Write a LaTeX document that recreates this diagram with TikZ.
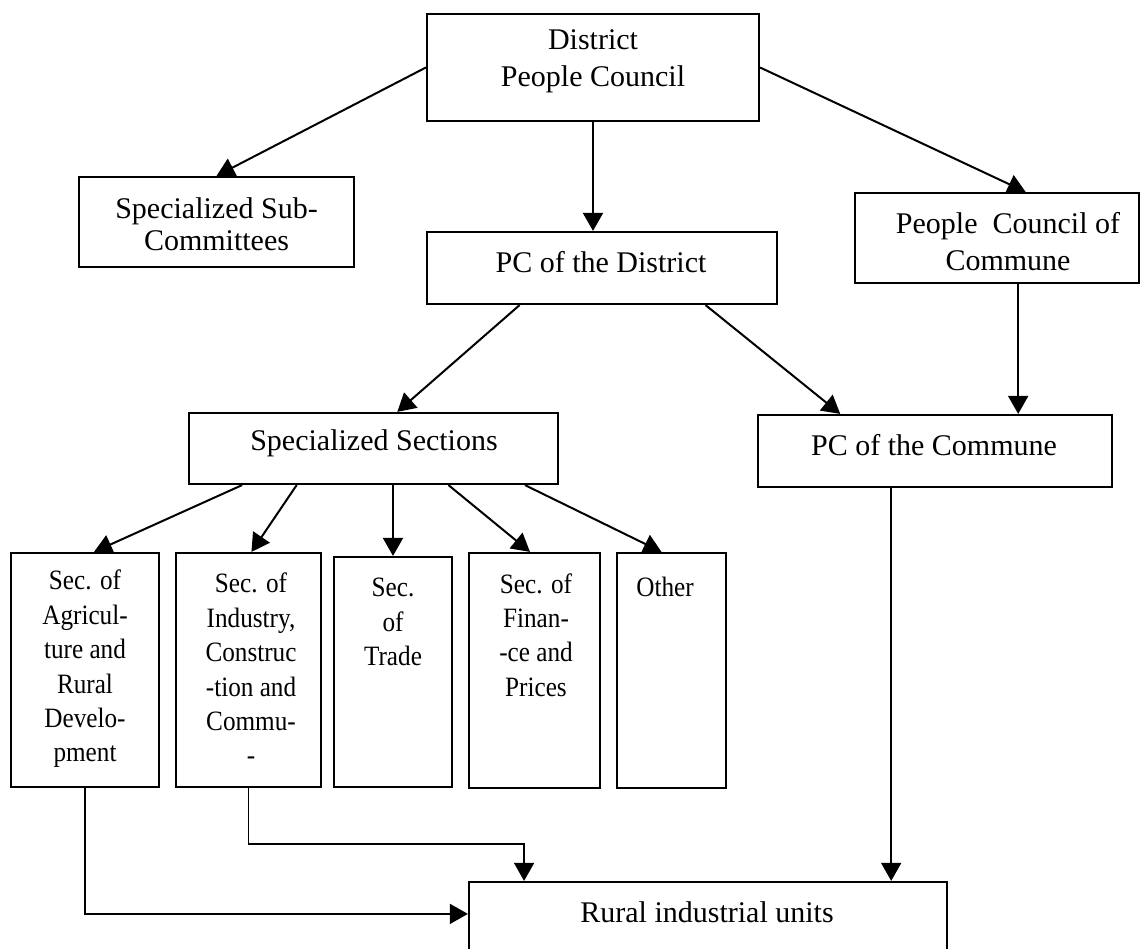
\documentclass[tikz,border=0pt]{standalone}
\usepackage{fontspec}
\setmainfont{Liberation Serif}
\newfontfamily\narrowfont[FakeStretch=0.9]{Liberation Serif}
\usetikzlibrary{calc,arrows.meta}
\begin{document}
\begin{tikzpicture}[x=1pt,y=-1pt,
  box/.style={draw, line width=2.2pt, inner sep=0pt},
  lbl/.style={font=\fontsize{30}{37}\selectfont, align=center, inner sep=0pt},
  lblb/.style={font=\fontsize{30}{32}\selectfont, align=center, inner sep=0pt},
  slbl/.style={font=\narrowfont\fontsize{28}{34.4}\selectfont, align=center, inner sep=0pt},
  arr/.style={line width=2pt, -{Triangle[length=18pt,width=20pt]}},
  thinarr/.style={line width=1.5pt, -{Triangle[length=18pt,width=20pt]}}]
\useasboundingbox (0,0) rectangle (1141,949);
\clip (0,0) rectangle (1141,949);
\fill[white] (0,0) rectangle (1141,949);

% boxes
\node[box, minimum width=332pt, minimum height=107pt] (dpc) at (593,67.5) {};
\node[box, minimum width=275pt, minimum height=90pt] (sub) at (216.5,222) {};
\node[box, minimum width=350pt, minimum height=72pt] (pcd) at (602,268) {};
\node[box, minimum width=284pt, minimum height=90pt] (pcc) at (997,238) {};
\node[box, minimum width=369pt, minimum height=71pt] (ss) at (373.5,448.5) {};
\node[box, minimum width=354pt, minimum height=72pt] (pcc2) at (935,451) {};
\node[box, minimum width=148pt, minimum height=234pt] (agri) at (85,670) {};
\node[box, minimum width=145pt, minimum height=234pt] (ind) at (248.5,670) {};
\node[box, minimum width=118pt, minimum height=230pt] (trade) at (393,672) {};
\node[box, minimum width=131pt, minimum height=235pt] (fin) at (534.5,670.5) {};
\node[box, minimum width=109pt, minimum height=235pt] (oth) at (671.5,670.5) {};
\node[box, minimum width=478pt, minimum height=88pt] (rural) at (708,926) {};

% texts
\node[lbl] (tdpc) at (593,61) {District\\People Council};
\node[lblb] (tsub) at (216.5,224) {Specialized Sub-\\Committees};
\node[lbl] (tpcd) at (601,262) {PC of the District};
\node[lbl] (tpcc) at (1008,241.5) {People\ \ Council of\\Commune};
\node[lbl] (tss) at (374,443) {Specialized Sections};
\node[lbl] (tpcc2) at (934,445) {PC of the Commune};
\node[lbl] (trural) at (707,912) {Rural industrial units};
\node[slbl] (tagri) at (85,669) {Sec. of\\Agricul-\\ture and\\Rural\\Develo-\\pment};
\node[slbl] (tind) at (251,669) {Sec. of\\Industry,\\Construc\\-tion and\\Commu-\\-};
\node[slbl] (ttrade) at (393,622) {Sec.\\of\\Trade};
\node[slbl] (tfin) at (536,635) {Sec. of\\Finan-\\-ce and\\Prices};
\node[slbl] (toth) at (665,587) {Other};

% connectors
\draw[arr] (dpc.west) -- (sub.north);
\draw[arr] (dpc.east) -- ($(pcc.north west)!0.6!(pcc.north east)$);
\draw[arr] (dpc.south) -- (dpc.south |- pcd.north);
\draw[arr] ($(pcd.south west)!0.266!(pcd.south east)$) -- ($(ss.north west)!0.564!(ss.north east)$);
\draw[arr] ($(pcd.south west)!0.794!(pcd.south east)$) -- ($(pcc2.north west)!0.234!(pcc2.north east)$);
\coordinate (c1) at ($(pcc.south west)!0.574!(pcc.south east)$);
\draw[arr] (c1) -- (c1 |- pcc2.north);

\draw[arr] ($(ss.south west)!0.146!(ss.south east)$) -- ($(agri.north west)!0.56!(agri.north east)$);
\draw[arr] ($(ss.south west)!0.293!(ss.south east)$) -- ($(ind.north west)!0.52!(ind.north east)$);
\draw[arr] (trade.north |- ss.south) -- (trade.north);
\draw[arr] ($(ss.south west)!0.702!(ss.south east)$) -- ($(fin.north west)!0.466!(fin.north east)$);
\draw[arr] ($(ss.south west)!0.908!(ss.south east)$) -- ($(oth.north west)!0.41!(oth.north east)$);

\draw[thinarr] (agri.south) |- ($(rural.north west)+(0,33)$);
\draw[thinarr] (ind.south) -- ++(0,56) -| ($(rural.north west)!0.117!(rural.north east)$);
\coordinate (c2) at ($(pcc2.south west)!0.377!(pcc2.south east)$);
\draw[thinarr] (c2) -- (c2 |- rural.north);
\end{tikzpicture}
\end{document}
